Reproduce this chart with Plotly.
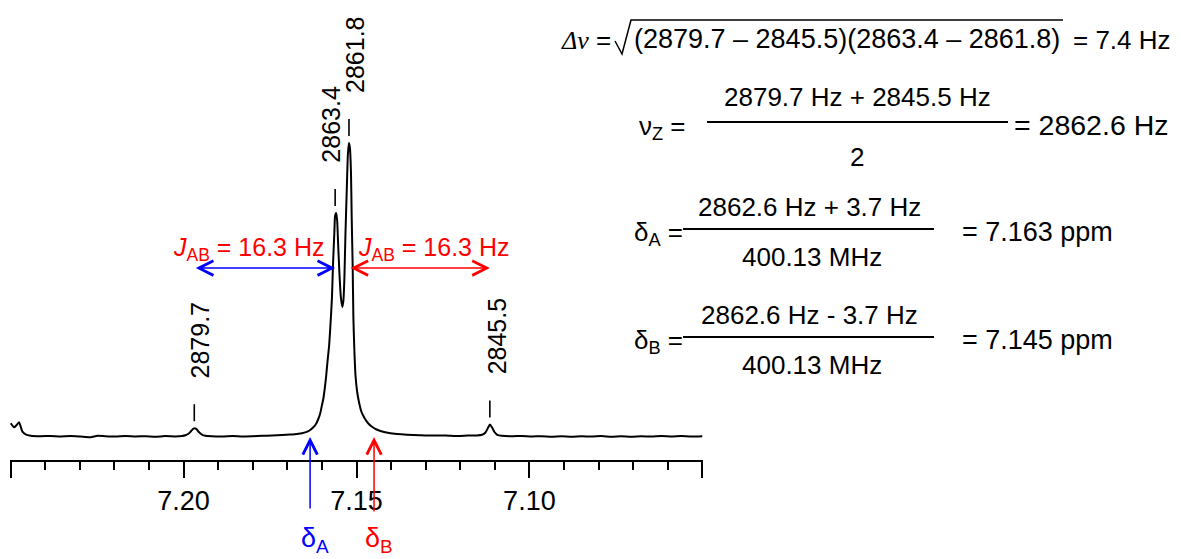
import math
import plotly.graph_objects as go

# 1H NMR, AB spin system recorded at 400.13 MHz
SPEC_MHZ = 400.13

# Observed line positions (Hz) and their peak heights (arbitrary units)
line_hz = [2879.7, 2863.4, 2861.8, 2845.5]
line_height = [2.66, 76.1, 100.0, 3.92]

# Spectrum trace: chemical shift (ppm) and intensity (arbitrary units)
ppm = [
    7.2500, 7.2490, 7.2484, 7.2476, 7.2466, 7.2457, 7.2442, 7.2413, 7.2385, 7.2356,
    7.2327, 7.2298, 7.2269, 7.2249, 7.2226, 7.2197, 7.2168, 7.2139, 7.2110, 7.2082,
    7.2053, 7.2024, 7.2004, 7.1995, 7.1986, 7.1978, 7.1972, 7.1968, 7.1963, 7.1956,
    7.1947, 7.1937, 7.1917, 7.1888, 7.1859, 7.1830, 7.1802, 7.1773, 7.1744, 7.1715,
    7.1692, 7.1672, 7.1657, 7.1646, 7.1636, 7.1627, 7.1618, 7.1611, 7.1605, 7.1601,
    7.1596, 7.1592, 7.1588, 7.1584, 7.1579, 7.1575, 7.1571, 7.1568, 7.1564, 7.1562,
    7.1559, 7.1556, 7.1553, 7.1549, 7.1545, 7.1541, 7.1538, 7.1535, 7.1532, 7.1528,
    7.1525, 7.1522, 7.1519, 7.1516, 7.1514, 7.1511, 7.1509, 7.1506, 7.1503, 7.1498,
    7.1492, 7.1486, 7.1477, 7.1467, 7.1455, 7.1442, 7.1426, 7.1406, 7.1383, 7.1354,
    7.1317, 7.1279, 7.1242, 7.1207, 7.1178, 7.1152, 7.1137, 7.1127, 7.1120, 7.1114,
    7.1108, 7.1101, 7.1093, 7.1080, 7.1051, 7.1022, 7.0993, 7.0965, 7.0936, 7.0907,
    7.0878, 7.0849, 7.0820, 7.0792, 7.0763, 7.0734, 7.0705, 7.0676, 7.0647, 7.0618,
    7.0589, 7.0561, 7.0532, 7.0500,
]
intensity = [
    4.33, 2.97, 3.58, 4.68, 1.47, 0.58, 0.10, -0.07, 0.03, -0.14,
    -0.03, -0.20, -0.41, 0.07, -0.10, -0.20, 0.00, -0.17, -0.07, -0.24,
    -0.03, -0.14, 0.00, 0.24, 0.75, 1.71, 2.46, 2.66, 2.39, 1.37,
    0.51, 0.10, -0.07, -0.20, -0.03, -0.17, -0.07, 0.07, 0.17, 0.31,
    0.48, 0.68, 0.92, 1.30, 1.88, 2.73, 3.92, 5.63, 7.68, 9.90,
    12.63, 16.04, 20.14, 25.26, 31.06, 38.57, 47.10, 58.36, 69.62, 75.09,
    76.11, 73.72, 65.19, 54.61, 47.10, 44.03, 46.08, 53.92, 68.60, 84.64,
    95.90, 100.0, 98.29, 90.10, 75.43, 57.34, 40.27, 28.67, 20.82, 15.02,
    11.09, 8.36, 6.14, 4.44, 3.14, 2.22, 1.54, 1.02, 0.68, 0.44,
    0.27, 0.14, 0.20, 0.00, 0.14, 0.17, 0.41, 1.19, 2.73, 3.92,
    2.90, 1.37, 0.41, 0.07, -0.10, 0.03, -0.17, -0.07, -0.24, -0.10,
    -0.27, -0.07, -0.20, -0.03, -0.24, -0.10, -0.27, -0.07, -0.20, 0.00,
    -0.17, -0.03, -0.20, -0.07,
]

# Axis ticks (ppm)
major_ticks = [7.25, 7.20, 7.15, 7.10, 7.05]
major_labels = ["", "7.20", "7.15", "7.10", ""]

# Derived AB-system quantities
nu1, nu2, nu3, nu4 = line_hz
J_AB = nu1 - nu2
delta_nu = math.sqrt((nu1 - nu4) * (nu2 - nu3))
nu_Z = (nu1 + nu4) / 2
half_dnu = 3.7
delta_A = (nu_Z + half_dnu) / SPEC_MHZ
delta_B = (nu_Z - half_dnu) / SPEC_MHZ
line_ppm = [h / SPEC_MHZ for h in line_hz]

FONT = "Liberation Sans, Arial, sans-serif"
W, H = 1181, 559
L, R, T, B = 10, 703, 0, 460          # plot area in pixels
BASE_PX = 436                           # pixel row of zero intensity
SCALE = 2.93                            # pixels per intensity unit


def px(x):
    return (x - L) / (R - L)


def py(y):
    return (B - y) / (B - T)


fig = go.Figure()
fig.add_trace(go.Scatter(
    x=ppm, y=intensity, mode="lines",
    line=dict(color="black", width=2, shape="spline", smoothing=0.5),
    hoverinfo="skip", showlegend=False,
))

annotations = []
shapes = []

# Peak labels with short marker ticks
label_dx = [6, -5, 6, 7]
for hz, p, h, dx in zip(line_hz, line_ppm, line_height, label_dx):
    shapes.append(dict(type="line", xref="x", yref="y", ysizemode="pixel",
                       yanchor=h, x0=p, x1=p, y0=7, y1=24,
                       line=dict(color="black", width=1.6)))
    annotations.append(dict(x=p, y=h, xref="x", yref="y", text=f"{hz:.1f}",
                            showarrow=False, textangle=-90, xanchor="center",
                            yanchor="bottom", yshift=48, xshift=dx,
                            font=dict(family=FONT, size=25, color="black")))

# Coupling constant arrows
J_Y = 57.3
for (a, b), col, dx in [((line_ppm[0], line_ppm[1]), "blue", -16),
                        ((line_ppm[2], line_ppm[3]), "red", 15)]:
    annotations.append(dict(x=b, y=J_Y, ax=a, ay=J_Y, xref="x", yref="y",
                            axref="x", ayref="y", text="", showarrow=True,
                            arrowside="end+start", arrowhead=5, startarrowhead=5,
                            arrowsize=1.9, startarrowsize=1.9, arrowwidth=1.5,
                            arrowcolor=col))
    annotations.append(dict(x=(a + b) / 2, y=J_Y, xref="x", yref="y",
                            text=f"<i>J</i><sub>AB</sub> = {J_AB:.1f} Hz",
                            showarrow=False, yanchor="bottom", yshift=1,
                            xshift=dx,
                            font=dict(family=FONT, size=25, color="red")))

# Chemical shift arrows below the axis
for d, col, lab, tail in [(delta_A, "blue", "A", 73), (delta_B, "red", "B", 76)]:
    annotations.append(dict(x=d, y=-0.34, xref="x", yref="y", ax=0, ay=tail,
                            text="", showarrow=True, arrowhead=5, arrowsize=1.9,
                            arrowwidth=1.5, arrowcolor=col))
    annotations.append(dict(x=d, y=py(521), xref="x", yref="paper",
                            text=f"δ<sub>{lab}</sub>", showarrow=False,
                            xshift=5, yanchor="top",
                            font=dict(family=FONT, size=27, color=col)))


def label(x, y, text, anchor="center", size=26):
    annotations.append(dict(x=px(x), y=py(y), xref="paper", yref="paper",
                            text=text, showarrow=False, xanchor=anchor,
                            yanchor="middle",
                            font=dict(family=FONT, size=size, color="black")))


def bar(x0, x1, y, w=2):
    shapes.append(dict(type="line", xref="paper", yref="paper",
                       x0=px(x0), x1=px(x1), y0=py(y), y1=py(y),
                       line=dict(color="black", width=w)))


# Δν from the outer and inner line separations
label(613, 40, "<span style=\"font-family:Liberation Serif\"><i>Δν</i></span> =",
      anchor="right")
shapes.append(dict(type="path", xref="paper", yref="paper",
                   path=(f"M{px(615)},{py(41)} L{px(622)},{py(54)} "
                         f"L{px(631)},{py(20)} L{px(1063)},{py(20)}"),
                   line=dict(color="black", width=1.5)))
label(632, 39, f"({nu1:.1f} – {nu4:.1f})({nu2:.1f} – {nu3:.1f})",
      anchor="left", size=27)
label(1071, 40, f"= {delta_nu:.1f} Hz", anchor="left")

# Centre frequency
label(688, 128, "ν<sub>Z</sub> =", anchor="right")
bar(707, 1008, 122)
label(857, 97, f"{nu1:.1f} Hz + {nu4:.1f} Hz")
label(857, 157, "2")
label(1012, 125, f"= {nu_Z:.1f} Hz", anchor="left", size=28.5)

# Chemical shifts
for yc, lab, sign, val in [(232, "A", "+", delta_A), (340, "B", "-", delta_B)]:
    label(685, yc + 2, f"δ<sub>{lab}</sub> =", anchor="right")
    bar(683, 934, yc - 3)
    label(810, yc - 25, f"{nu_Z:.1f} Hz {sign} {half_dnu:.1f} Hz")
    label(812, yc + 25, f"{SPEC_MHZ:.2f} MHz")
    label(960, yc, f"= {val:.3f} ppm", anchor="left", size=27)

fig.update_layout(
    width=W, height=H,
    margin=dict(l=L, r=W - R, t=T, b=H - B),
    paper_bgcolor="white", plot_bgcolor="white",
    showlegend=False,
    xaxis=dict(range=[7.2502, 7.0498], showgrid=False, zeroline=False,
               showline=True, linecolor="black", linewidth=2,
               ticks="outside", ticklen=16, tickwidth=1.6, tickcolor="black",
               tickmode="array", tickvals=major_ticks, ticktext=major_labels,
               tickfont=dict(family=FONT, size=27, color="black"),
               minor=dict(tick0=7.0, dtick=0.01, ticks="outside", ticklen=8,
                          tickwidth=1.6, tickcolor="black")),
    yaxis=dict(range=[-(B - BASE_PX) / SCALE, (BASE_PX - T) / SCALE],
               visible=False),
    annotations=annotations,
    shapes=shapes,
)

fig.write_html("out.html")
